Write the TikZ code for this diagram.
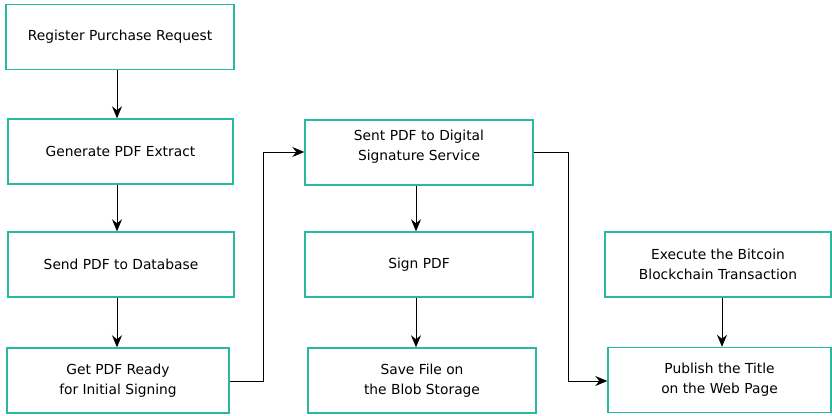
\documentclass[tikz,border=0pt]{standalone}
\usepackage{fontspec}
\setmainfont{DejaVu Sans}
\usetikzlibrary{arrows.meta}
\definecolor{boxline}{RGB}{40,185,160}

\begin{document}
\begin{tikzpicture}[x = 1pt, y = -1pt,
    stepbox/.style = {rectangle, line width = 1.4pt, draw = boxline, fill = white, inner sep = 2pt, minimum height = 65pt, align = center, font = \fontsize{13.8}{20}\selectfont},
    flow/.style = {line width = 0.9pt, -{Stealth[length = 12pt, width = 10pt, inset = 4pt]}}]

\useasboundingbox (0, 0) rectangle (832, 415);

\node[stepbox, minimum width = 228pt] (register) at (120, 37) {Register Purchase Request};
\node[stepbox, minimum width = 225pt] (extract) at (120.5, 151.5) {Generate PDF Extract};
\node[stepbox, minimum width = 226pt] (database) at (121, 264.5) {Send PDF to Database};
\node[stepbox, minimum width = 222pt] (ready) at (118, 380.5) {Get PDF Ready\\for Initial Signing};

\node[stepbox, minimum width = 228pt] (service) at (419, 152.5) {Sent PDF to Digital\\Signature Service\\[-6pt]\mbox{}};
\node[stepbox, minimum width = 228pt] (sign) at (419, 264.5) {Sign PDF};
\node[stepbox, minimum width = 228pt] (storage) at (422, 380.5) {Save File on\\the Blob Storage};

\node[stepbox, minimum width = 226pt] (bitcoin) at (718, 264.5) {Execute the Bitcoin\\Blockchain Transaction};
\node[stepbox, minimum width = 223pt] (publish) at (719.5, 380) {Publish the Title\\on the Web Page};

\draw[flow] (register.south -| 117, 0) -- (extract.north -| 117, 0);
\draw[flow] (extract.south -| 117, 0) -- (database.north -| 117, 0);
\draw[flow] (database.south -| 117, 0) -- (ready.north -| 117, 0);

\draw[flow] (ready.east |- 0, 381) -- (263, 381) -- (263, 152) -- (service.west |- 0, 152);
\draw[flow] (service.east |- 0, 152) -- (568, 152) -- (568, 381) -- (publish.west |- 0, 381);

\draw[flow] (service.south -| 416, 0) -- (sign.north -| 416, 0);
\draw[flow] (sign.south -| 416, 0) -- (storage.north -| 416, 0);
\draw[flow] (bitcoin.south -| 722, 0) -- (publish.north -| 722, 0);

\end{tikzpicture}
\end{document}
